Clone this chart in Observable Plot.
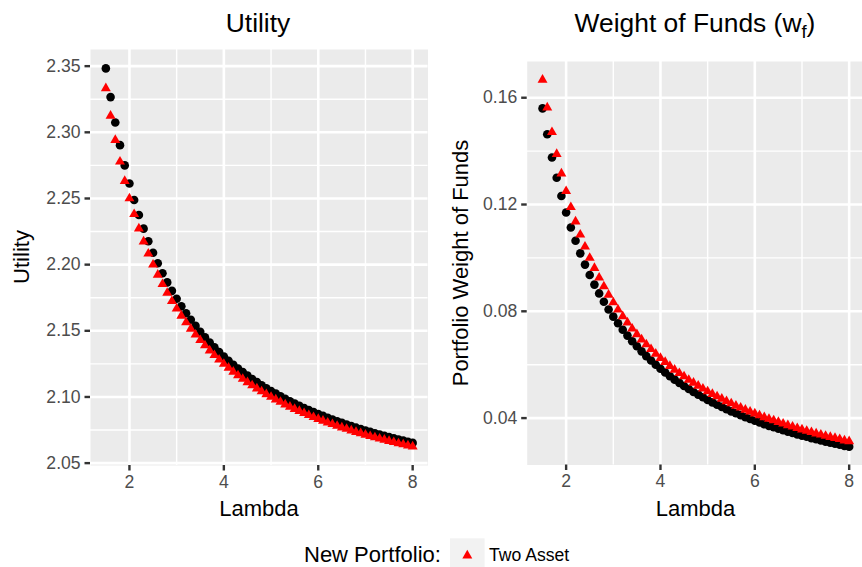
<!DOCTYPE html>
<html>
<head>
<meta charset="utf-8">
<script src="https://cdn.jsdelivr.net/npm/d3@7"></script>
<script src="https://cdn.jsdelivr.net/npm/@observablehq/plot@0.6"></script>
<style>
html,body{margin:0;padding:0;background:#fff;overflow:hidden;}
#root{position:relative;width:862px;height:567px;overflow:hidden;background:#fff;font-family:"Liberation Sans",Arial,Helvetica,sans-serif;}
.panel{position:absolute;top:0;}
#overlay{position:absolute;left:0;top:0;pointer-events:none;}
</style>
</head>
<body>
<div id="root">
  <div class="panel" id="left" style="left:0;width:440px;"></div>
  <div class="panel" id="right" style="left:430px;width:434px;"></div>
</div>
<script>
// ---- data ----
const lambda = [1.5,1.6,1.7,1.8,1.9,2.0,2.1,2.2,2.3,2.4,2.5,2.6,2.7,2.8,2.9,3.0,3.1,3.2,3.3,3.4,3.5,3.6,3.7,3.8,3.9,4.0,4.1,4.2,4.3,4.4,4.5,4.6,4.7,4.8,4.9,5.0,5.1,5.2,5.3,5.4,5.5,5.6,5.7,5.8,5.9,6.0,6.1,6.2,6.3,6.4,6.5,6.6,6.7,6.8,6.9,7.0,7.1,7.2,7.3,7.4,7.5,7.6,7.7,7.8,7.9,8.0];

// black circles (not in legend)
const utilityBlack = [2.3483,2.3266,2.3074,2.2903,2.2750,2.2613,2.2488,2.2375,2.2272,2.2177,2.2090,2.2010,2.1935,2.1866,2.1802,2.1742,2.1685,2.1633,2.1583,2.1537,2.1493,2.1451,2.1412,2.1375,2.1340,2.1306,2.1274,2.1244,2.1215,2.1188,2.1161,2.1136,2.1112,2.1089,2.1066,2.1045,2.1025,2.1005,2.0986,2.0968,2.0950,2.0933,2.0917,2.0901,2.0886,2.0871,2.0857,2.0843,2.0829,2.0816,2.0804,2.0792,2.0780,2.0768,2.0757,2.0746,2.0736,2.0726,2.0716,2.0706,2.0697,2.0688,2.0679,2.0670,2.0661,2.0653];
// red triangles: "Two Asset"
const utilityTwoAsset = [2.3333,2.3125,2.2941,2.2778,2.2632,2.2500,2.2381,2.2273,2.2174,2.2083,2.2000,2.1923,2.1852,2.1786,2.1724,2.1667,2.1613,2.1563,2.1515,2.1471,2.1429,2.1389,2.1351,2.1316,2.1282,2.1250,2.1220,2.1190,2.1163,2.1136,2.1111,2.1087,2.1064,2.1042,2.1020,2.1000,2.0980,2.0962,2.0943,2.0926,2.0909,2.0893,2.0877,2.0862,2.0847,2.0833,2.0820,2.0806,2.0794,2.0781,2.0769,2.0758,2.0746,2.0735,2.0725,2.0714,2.0704,2.0694,2.0685,2.0676,2.0667,2.0658,2.0649,2.0641,2.0633,2.0625];

const weightBlack = [0.1560,0.1463,0.1376,0.1300,0.1232,0.1170,0.1114,0.1064,0.1017,0.0975,0.0936,0.0900,0.0867,0.0836,0.0807,0.0780,0.0755,0.0731,0.0709,0.0688,0.0669,0.0650,0.0632,0.0616,0.0600,0.0585,0.0571,0.0557,0.0544,0.0532,0.0520,0.0509,0.0498,0.0488,0.0478,0.0468,0.0459,0.0450,0.0442,0.0433,0.0425,0.0418,0.0411,0.0403,0.0397,0.0390,0.0384,0.0377,0.0371,0.0366,0.0360,0.0355,0.0349,0.0344,0.0339,0.0334,0.0330,0.0325,0.0321,0.0316,0.0312,0.0308,0.0304,0.0300,0.0296,0.0293];
const weightTwoAsset = [0.1667,0.1563,0.1471,0.1389,0.1316,0.1250,0.1190,0.1136,0.1087,0.1042,0.1000,0.0962,0.0926,0.0893,0.0862,0.0833,0.0806,0.0781,0.0758,0.0735,0.0714,0.0694,0.0676,0.0658,0.0641,0.0625,0.0610,0.0595,0.0581,0.0568,0.0556,0.0543,0.0532,0.0521,0.0510,0.0500,0.0490,0.0481,0.0472,0.0463,0.0455,0.0446,0.0439,0.0431,0.0424,0.0417,0.0410,0.0403,0.0397,0.0391,0.0385,0.0379,0.0373,0.0368,0.0362,0.0357,0.0352,0.0347,0.0342,0.0338,0.0333,0.0329,0.0325,0.0321,0.0316,0.0313];

const xTicks = [2, 4, 6, 8];
const xMinorTicks = [3, 5, 7];
const utilityTicks = [2.05, 2.10, 2.15, 2.20, 2.25, 2.30, 2.35];
const utilityMinorTicks = [2.075, 2.125, 2.175, 2.225, 2.275, 2.325];
const weightTicks = [0.04, 0.08, 0.12, 0.16];
const weightMinorTicks = [0.06, 0.10, 0.14];

const titles = ["Utility", "Weight of Funds"];
const xTitle = "Lambda";
const yTitles = ["Utility", "Portfolio Weight of Funds"];
const legendTitle = "New Portfolio:";
const legendLabel = "Two Asset";

// ---- helpers ----
const FONT = "Liberation Sans, Arial, Helvetica, sans-serif";
function expand(vals) { // ggplot default 5% expansion
  const [a, b] = d3.extent(vals); const p = (b - a) * 0.05; return [a - p, b + p];
}
const xDomain = expand(lambda);

function panel({width, height, mt, mr, mb, ml, black, red, yTicks, yMinor}) {
  const rows = lambda.map((l, i) => ({l, black: black[i], red: red[i]}));
  return Plot.plot({
    width, height,
    marginTop: mt, marginRight: mr, marginBottom: mb, marginLeft: ml,
    style: {fontFamily: FONT, background: "transparent", overflow: "visible"},
    x: {domain: xDomain},
    y: {domain: expand(black.concat(red))},
    marks: [
      Plot.frame({fill: "#ebebeb", stroke: null}),
      Plot.gridX(xMinorTicks, {stroke: "#fff", strokeOpacity: 1, strokeWidth: 1.4}),
      Plot.gridY(yMinor, {stroke: "#fff", strokeOpacity: 1, strokeWidth: 1.4}),
      Plot.gridX(xTicks, {stroke: "#fff", strokeOpacity: 1, strokeWidth: 2.6}),
      Plot.gridY(yTicks, {stroke: "#fff", strokeOpacity: 1, strokeWidth: 2.6}),
      Plot.dot(rows, {x: "l", y: "black", r: 4.3, fill: "#000", stroke: null, symbol: "circle"}),
      Plot.dot(rows, {x: "l", y: "red", r: 3.7, fill: "#ff0000", stroke: null, symbol: "triangle"}),
      Plot.axisX(xTicks, {tickSize: 5.5, tickPadding: 4.4, stroke: "#333", strokeWidth: 2.4, fill: "#4d4d4d",
        fontSize: 17.6, tickFormat: d3.format("d"), label: null}),
      Plot.axisY(yTicks, {tickSize: 5.5, tickPadding: 4.4, stroke: "#333", strokeWidth: 2.4, fill: "#4d4d4d",
        fontSize: 17.6, tickFormat: d3.format(".2f"), label: null})
    ]
  });
}

document.getElementById("left").append(panel({
  width: 440, height: 520, mt: 49, mr: 12.5, mb: 55, ml: 90,
  black: utilityBlack, red: utilityTwoAsset, yTicks: utilityTicks, yMinor: utilityMinorTicks
}));
document.getElementById("right").append(panel({
  width: 434, height: 520, mt: 61, mr: 0, mb: 55.5, ml: 96.7,
  black: weightBlack, red: weightTwoAsset, yTicks: weightTicks, yMinor: weightMinorTicks
}));

// ---- text overlay: titles, axis titles, legend ----
const svg = d3.select("#root").append("svg").attr("id", "overlay")
  .attr("width", 862).attr("height", 567).style("font-family", FONT);

svg.append("text").attr("x", 258).attr("y", 32).attr("text-anchor", "middle")
  .attr("font-size", 26.4).attr("fill", "#000").text(titles[0]);
const t2 = svg.append("text").attr("x", 695).attr("y", 32).attr("text-anchor", "middle")
  .attr("font-size", 26.4).attr("fill", "#000");
t2.append("tspan").text(titles[1] + " (w");
t2.append("tspan").attr("dy", 6).attr("font-size", 18.5).text("f");
t2.append("tspan").attr("dy", -6).text(")");

svg.append("text").attr("x", 259).attr("y", 516).attr("text-anchor", "middle")
  .attr("font-size", 22).attr("fill", "#000").text(xTitle);
svg.append("text").attr("x", 695.5).attr("y", 516).attr("text-anchor", "middle")
  .attr("font-size", 22).attr("fill", "#000").text(xTitle);

svg.append("text").attr("transform", "translate(28.5,257) rotate(-90)").attr("text-anchor", "middle")
  .attr("font-size", 22).attr("fill", "#000").text(yTitles[0]);
svg.append("text").attr("transform", "translate(468,263) rotate(-90)").attr("text-anchor", "middle")
  .attr("font-size", 22).attr("fill", "#000").text(yTitles[1]);

// legend
svg.append("text").attr("x", 304).attr("y", 562).attr("font-size", 22).attr("fill", "#000").text(legendTitle);
svg.append("rect").attr("x", 450).attr("y", 538.3).attr("width", 34.6).attr("height", 34.6).attr("fill", "#f2f2f2");
svg.append("path").attr("transform", "translate(467.3,555.6)")
  .attr("d", d3.symbol(d3.symbolTriangle, 43)()).attr("fill", "#ff0000");
svg.append("text").attr("x", 489).attr("y", 561).attr("font-size", 17.6).attr("fill", "#000").text(legendLabel);
</script>
</body>
</html>
